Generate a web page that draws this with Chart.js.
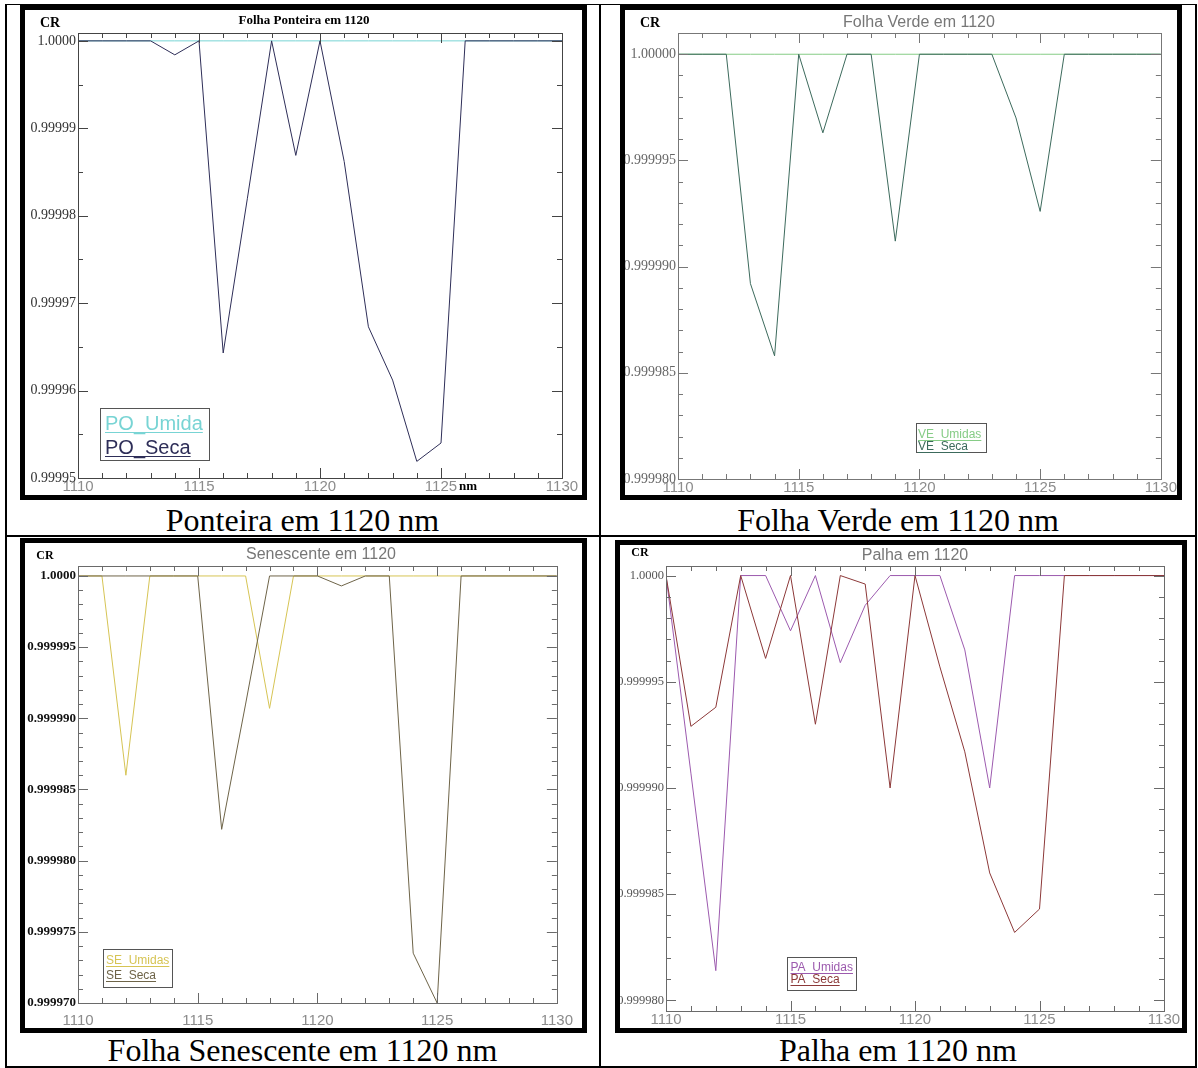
<!DOCTYPE html>
<html>
<head>
<meta charset="utf-8">
<script src="https://cdn.jsdelivr.net/npm/chart.js@4.4.0/dist/chart.umd.min.js"></script>
<style>
  body { margin: 0; background: #fff; width: 1198px; height: 1068px; position: relative; overflow: hidden; }
  .rule { position: absolute; background: #000; }
  .frame { position: absolute; border: 5px solid #000; box-sizing: border-box; background: #fff; }
  .frame canvas { display: block; }
  .caption { position: absolute; font-family: "Liberation Serif", "Times New Roman", serif; font-size: 32px; line-height: 32px; text-align: center; color: #000; }
</style>
</head>
<body>
<!-- table rules -->
<div class="rule" style="left:5px;top:4px;width:1192px;height:1px"></div>
<div class="rule" style="left:5px;top:4px;width:2px;height:1064px"></div>
<div class="rule" style="left:599px;top:4px;width:2px;height:1064px"></div>
<div class="rule" style="left:1195px;top:4px;width:2px;height:1064px"></div>
<div class="rule" style="left:5px;top:535px;width:1192px;height:2px"></div>
<div class="rule" style="left:5px;top:1066px;width:1192px;height:2px"></div>

<div class="frame" style="left:20px;top:5px;width:567px;height:495px"><canvas id="po" width="557" height="485"></canvas></div>
<div class="frame" style="left:620px;top:5px;width:562px;height:495px"><canvas id="ve" width="552" height="485"></canvas></div>
<div class="frame" style="left:20px;top:538px;width:567px;height:495px"><canvas id="se" width="557" height="485"></canvas></div>
<div class="frame" style="left:615px;top:540px;width:572px;height:493px"><canvas id="pa" width="562" height="483"></canvas></div>

<div class="caption" style="left:5px;top:504px;width:595px">Ponteira em 1120 nm</div>
<div class="caption" style="left:600px;top:504px;width:596px">Folha Verde em 1120 nm</div>
<div class="caption" style="left:5px;top:1034px;width:595px">Folha Senescente em 1120 nm</div>
<div class="caption" style="left:600px;top:1034px;width:596px">Palha em 1120 nm</div>

<script>
// wavelength (nm) of every sample
const wavelengths = [1110, 1111, 1112, 1113, 1114, 1115, 1116, 1117, 1118, 1119, 1120,
                     1121, 1122, 1123, 1124, 1125, 1126, 1127, 1128, 1129, 1130];
const xTicks = [1110, 1115, 1120, 1125, 1130];

// Folha Ponteira
const poUmida = [1, 1, 1, 1, 1, 1, 1, 1, 1, 1, 1, 1, 1, 1, 1, 1, 1, 1, 1, 1, 1];
const poSeca = [1, 1, 1, 1, 0.9999984, 1, 0.9999643, 0.999982, 1, 0.9999869, 1,
                0.9999862, 0.9999673, 0.9999612, 0.9999519, 0.999954, 1, 1, 1, 1, 1];
const poTicks = [1.0, 0.99999, 0.99998, 0.99997, 0.99996, 0.99995];
const poLabels = ['1.0000', '0.99999', '0.99998', '0.99997', '0.99996', '0.99995'];

// Folha Verde
const veUmidas = [1, 1, 1, 1, 1, 1, 1, 1, 1, 1, 1, 1, 1, 1, 1, 1, 1, 1, 1, 1, 1];
const veSeca = [1, 1, 1, 0.9999892, 0.9999858, 1, 0.9999963, 1, 1, 0.9999912, 1,
                1, 1, 1, 0.999997, 0.9999926, 1, 1, 1, 1, 1];
const veTicks = [1.0, 0.999995, 0.99999, 0.999985, 0.99998];
const veLabels = ['1.00000', '0.999995', '0.999990', '0.999985', '0.999980'];

// Folha Senescente
const seUmidas = [1, 1, 0.999986, 1, 1, 1, 1, 1, 0.9999907, 1, 1,
                  1, 1, 1, 1, 1, 1, 1, 1, 1, 1];
const seSeca = [1, 1, 1, 1, 1, 1, 0.9999822, 0.999991, 1, 1, 1,
                0.9999993, 1, 1, 0.9999735, 0.99997, 1, 1, 1, 1, 1];
const seTicks = [1.0, 0.999995, 0.99999, 0.999985, 0.99998, 0.999975, 0.99997];
const seLabels = ['1.0000', '0.999995', '0.999990', '0.999985', '0.999980', '0.999975', '0.999970'];

// Palha
const paUmidas = [1, 0.9999907, 0.9999814, 1, 1, 0.9999974, 1, 0.9999959, 0.9999986, 1, 1,
                  1, 0.9999965, 0.99999, 1, 1, 1, 1, 1, 1, 1];
const paSeca = [1, 0.9999929, 0.9999938, 1, 0.9999961, 1, 0.999993, 1, 0.9999996, 0.99999, 1,
                0.9999957, 0.9999917, 0.999986, 0.9999832, 0.9999843, 1, 1, 1, 1, 1];
const paTicks = [1.0, 0.999995, 0.99999, 0.999985, 0.99998];
const paLabels = ['1.0000', '0.999995', '0.999990', '0.999985', '0.999980'];

// IDL-like decorations: boxed axes with inward ticks, CR label, title, legend box
function decor(cfg) {
  return {
    id: 'decor',
    afterDraw(chart) {
      const { ctx, chartArea: a } = chart;
      const x = chart.scales.x, y = chart.scales.y;
      ctx.save();
      ctx.strokeStyle = cfg.axisColor;
      ctx.lineWidth = 1;
      ctx.strokeRect(Math.round(a.left) + 0.5, Math.round(a.top) + 0.5,
                     Math.round(a.right - a.left), Math.round(a.bottom - a.top));
      ctx.beginPath();
      for (let v = 1110; v <= 1130; v++) {
        const px = Math.round(x.getPixelForValue(v)) + 0.5;
        const len = v % 5 === 0 ? 10 : 5;
        ctx.moveTo(px, a.bottom); ctx.lineTo(px, a.bottom - len);
        ctx.moveTo(px, a.top); ctx.lineTo(px, a.top + len);
      }
      for (let k = 0; ; k++) {
        const v = cfg.yBase + k * cfg.yStep;
        if (v > y.max) break;
        const py = Math.round(y.getPixelForValue(v)) + 0.5;
        const len = k % cfg.yRatio === 0 ? 10 : 5;
        ctx.moveTo(a.left, py); ctx.lineTo(a.left + len, py);
        ctx.moveTo(a.right, py); ctx.lineTo(a.right - len, py);
      }
      ctx.stroke();

      ctx.fillStyle = '#000';
      ctx.textAlign = 'center';
      ctx.textBaseline = 'middle';
      ctx.font = cfg.crFont;
      ctx.fillText('CR', cfg.cr[0], cfg.cr[1]);

      ctx.fillStyle = cfg.title.color;
      ctx.font = cfg.title.font;
      ctx.fillText(cfg.title.text, cfg.title.x, cfg.title.y);

      if (cfg.unit) {
        ctx.fillStyle = '#000';
        ctx.textAlign = 'left';
        ctx.font = 'bold 13px "Liberation Serif"';
        ctx.fillText('nm', x.getPixelForValue(1125) + 18, a.bottom + 9);
      }

      const L = cfg.legend;
      ctx.strokeStyle = '#555';
      ctx.strokeRect(L.x + 0.5, L.y + 0.5, L.w, L.h);
      ctx.font = L.font;
      ctx.textAlign = 'left';
      ctx.textBaseline = 'alphabetic';
      chart.data.datasets.forEach((ds, i) => {
        const by = L.baselines[i];
        ctx.fillStyle = ds.borderColor;
        ctx.fillText(ds.label, L.tx, by);
        const w = ctx.measureText(ds.label).width;
        ctx.strokeStyle = ds.borderColor;
        ctx.beginPath();
        ctx.moveTo(L.tx, by + 2.5);
        ctx.lineTo(L.tx + w, by + 2.5);
        ctx.stroke();
      });
      ctx.restore();
    }
  };
}

function makePanel(id, cfg) {
  return new Chart(document.getElementById(id), {
    type: 'line',
    data: {
      datasets: cfg.series.map(s => ({
        label: s.label,
        data: wavelengths.map((w, i) => ({ x: w, y: s.values[i] })),
        borderColor: s.color,
        borderWidth: 1,
        pointRadius: 0,
        tension: 0,
        order: s.order
      }))
    },
    options: {
      responsive: false,
      animation: false,
      events: [],
      layout: { padding: cfg.padding },
      plugins: { legend: { display: false }, tooltip: { enabled: false }, title: { display: false } },
      scales: {
        x: {
          type: 'linear', min: 1110, max: 1130,
          afterBuildTicks: s => { s.ticks = xTicks.map(v => ({ value: v })); },
          afterFit: s => { s.height = cfg.xHeight; },
          grid: { display: false, drawTicks: false },
          border: { display: false },
          ticks: {
            autoSkip: false, maxRotation: 0, padding: cfg.xPad,
            color: '#8c8c8c', font: { family: 'Liberation Sans', size: 15 },
            callback: v => String(v)
          }
        },
        y: {
          type: 'linear', min: cfg.yMin, max: cfg.yMax,
          afterBuildTicks: s => { s.ticks = cfg.yTicks.map(v => ({ value: v })); },
          afterFit: s => { s.width = cfg.yWidth; },
          grid: { display: false, drawTicks: false },
          border: { display: false },
          ticks: {
            autoSkip: false, padding: 2,
            color: cfg.yColor, font: cfg.yFont,
            callback: (v, i) => cfg.yLabels[i]
          }
        }
      }
    },
    plugins: [decor(cfg.decor)]
  });
}

makePanel('po', {
  series: [
    { label: 'PO_Umida', values: poUmida, color: '#78d4d4', order: 2 },
    { label: 'PO_Seca', values: poSeca, color: '#2e2e58', order: 1 }
  ],
  padding: { top: 23, right: 20, left: 0, bottom: 0 },
  xHeight: 17, xPad: 0, yWidth: 53,
  yMin: 0.99995, yMax: 1.0000009,
  yTicks: poTicks, yLabels: poLabels,
  yColor: '#333', yFont: { family: 'Liberation Serif', size: 14 },
  decor: {
    axisColor: '#444', yBase: 0.99995, yStep: 0.000005, yRatio: 2,
    cr: [25, 13.5], crFont: 'bold 14px "Liberation Serif"',
    title: { text: 'Folha Ponteira em 1120', font: 'bold 13px "Liberation Serif"', color: '#000', x: 279, y: 11 },
    unit: true,
    legend: { x: 75, y: 398, w: 109, h: 52, tx: 80, baselines: [420, 444], font: '20px "Liberation Sans"' }
  }
});

makePanel('ve', {
  series: [
    { label: 'VE_Umidas', values: veUmidas, color: '#86cc86', order: 2 },
    { label: 'VE_Seca', values: veSeca, color: '#3c6a5c', order: 1 }
  ],
  padding: { top: 23, right: 16, left: 0, bottom: 0 },
  xHeight: 16, xPad: 0, yWidth: 53,
  yMin: 0.99998, yMax: 1.000001,
  yTicks: veTicks, yLabels: veLabels,
  yColor: '#666', yFont: { family: 'Liberation Serif', size: 14 },
  decor: {
    axisColor: '#777', yBase: 0.99998, yStep: 0.000001, yRatio: 5,
    cr: [25, 13.5], crFont: 'bold 14px "Liberation Serif"',
    title: { text: 'Folha Verde em 1120', font: '16px "Liberation Sans"', color: '#777', x: 294, y: 13 },
    unit: false,
    legend: { x: 291, y: 413, w: 70, h: 29, tx: 293, baselines: [428, 440], font: '12px "Liberation Sans"' }
  }
});

makePanel('se', {
  series: [
    { label: 'SE_Umidas', values: seUmidas, color: '#d6c454', order: 2 },
    { label: 'SE_Seca', values: seSeca, color: '#6e6448', order: 1 }
  ],
  padding: { top: 23, right: 18, left: 0, bottom: 0 },
  xHeight: 25, xPad: 9, yWidth: 53,
  yMin: 0.99997, yMax: 1.0000007,
  yTicks: seTicks, yLabels: seLabels,
  yColor: '#111', yFont: { family: 'Liberation Serif', size: 13, weight: 'bold' },
  decor: {
    axisColor: '#6a6a6a', yBase: 0.99997, yStep: 0.000001, yRatio: 5,
    cr: [20, 13], crFont: 'bold 12px "Liberation Serif"',
    title: { text: 'Senescente em 1120', font: '16px "Liberation Sans"', color: '#777', x: 296, y: 12 },
    unit: false,
    legend: { x: 78, y: 406, w: 69, h: 38, tx: 81, baselines: [421, 436], font: '12px "Liberation Sans"' }
  }
});

makePanel('pa', {
  series: [
    { label: 'PA_Umidas', values: paUmidas, color: '#9c5aae', order: 2 },
    { label: 'PA_Seca', values: paSeca, color: '#8c3838', order: 1 }
  ],
  padding: { top: 21, right: 18, left: 0, bottom: 0 },
  xHeight: 17, xPad: 0, yWidth: 46,
  yMin: 0.9999795, yMax: 1.00000045,
  yTicks: paTicks, yLabels: paLabels,
  yColor: '#555', yFont: { family: 'Liberation Serif', size: 12.5 },
  decor: {
    axisColor: '#6a6a6a', yBase: 0.99998, yStep: 0.000001, yRatio: 5,
    cr: [20, 8], crFont: 'bold 12px "Liberation Serif"',
    title: { text: 'Palha em 1120', font: '16px "Liberation Sans"', color: '#777', x: 295, y: 11 },
    unit: false,
    legend: { x: 167, y: 412, w: 69, h: 33, tx: 170.5, baselines: [426, 438], font: '12px "Liberation Sans"' }
  }
});
</script>
</body>
</html>
